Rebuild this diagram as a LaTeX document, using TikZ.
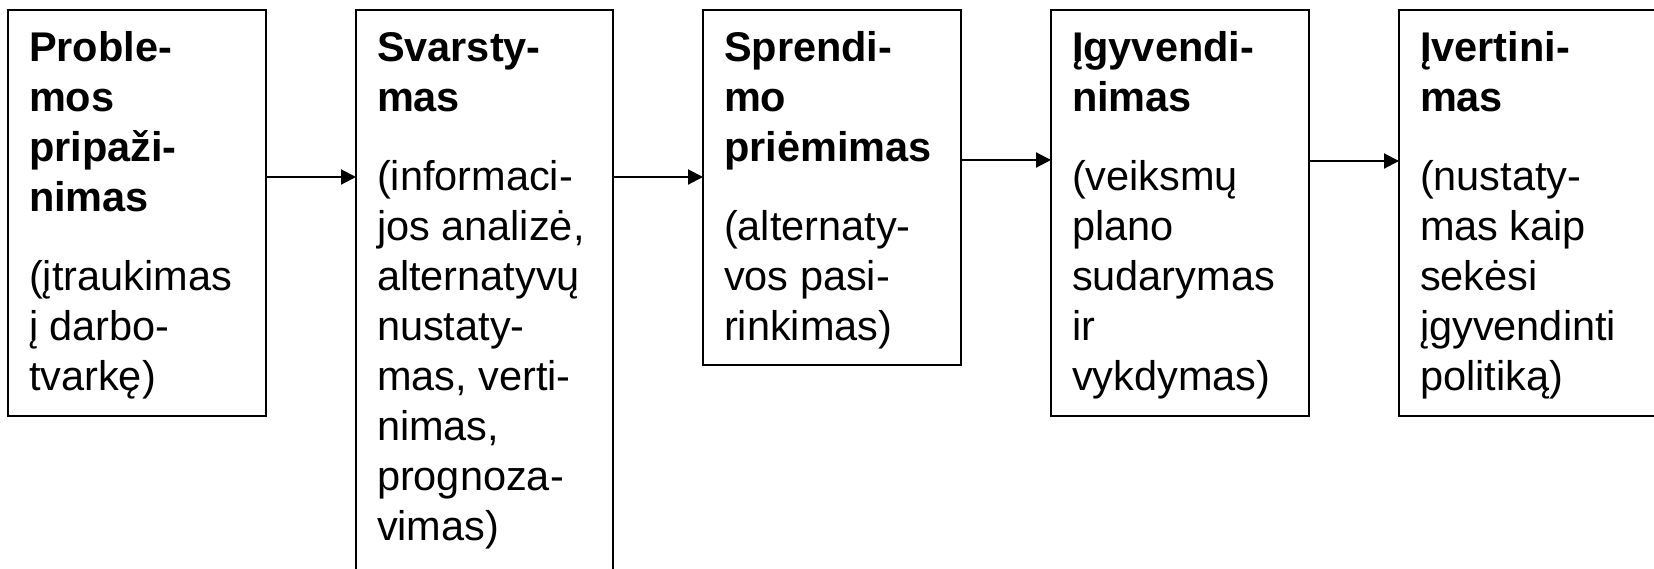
\documentclass[tikz,border=0pt]{standalone}
\usepackage{fontspec}
\setmainfont{Liberation Sans}
\usetikzlibrary{arrows.meta}
\begin{document}
\begin{tikzpicture}[x=1pt,y=-1pt,
  stage/.style 2 args={draw=black, line width=2pt, rectangle, anchor=north west,
    inner sep=0pt, outer sep=0pt, minimum width=#1, minimum height=#2},
  lbl/.style={anchor=base west, inner sep=0pt, outer sep=0pt, align=left,
    font=\fontsize{41.5pt}{50pt}\selectfont},
  conn/.style={line width=2pt, -{Triangle[length=15pt,width=15pt]}}]
\useasboundingbox (0,0) rectangle (1654,569);
% boxes
\node[stage={258pt}{406pt}] (b1) at (8,10) {};
\node[stage={257pt}{590pt}] (b2) at (356,10) {};
\node[stage={258pt}{355pt}] (b3) at (703,10) {};
\node[stage={258pt}{406pt}] (b4) at (1051,10) {};
\node[stage={258pt}{406pt}] (b5) at (1399,10) {};
% texts
\node[lbl] (t1) at (29,62) {\parbox[t]{240pt}{\raggedright\bfseries Proble-\\mos\\pripaži-\\nimas\\[29pt]\mdseries (įtraukimas\\į darbo-\\tvarkę)}};
\node[lbl] (t2) at (377,62) {\parbox[t]{240pt}{\raggedright\bfseries Svarsty-\\mas\\[29pt]\mdseries (informaci-\\jos analizė,\\alternatyvų\\nustaty-\\mas, verti-\\nimas,\\prognoza-\\vimas)}};
\node[lbl] (t3) at (724,62) {\parbox[t]{240pt}{\raggedright\bfseries Sprendi-\\mo\\priėmimas\\[29pt]\mdseries (alternaty-\\vos pasi-\\rinkimas)}};
\node[lbl] (t4) at (1072,62) {\parbox[t]{240pt}{\raggedright\bfseries Įgyvendi-\\nimas\\[29pt]\mdseries (veiksmų\\plano\\sudarymas\\ir\\vykdymas)}};
\node[lbl] (t5) at (1420,62) {\parbox[t]{240pt}{\raggedright\bfseries Įvertini-\\mas\\[29pt]\mdseries (nustaty-\\mas kaip\\sekėsi\\įgyvendinti\\politiką)}};
% connectors
\draw[conn] ([yshift=-167pt]b1.north east) -- ([yshift=-167pt]b2.north west);
\draw[conn] ([yshift=-167pt]b2.north east) -- ([yshift=-167pt]b3.north west);
\draw[conn] ([yshift=-150pt]b3.north east) -- ([yshift=-150pt]b4.north west);
\draw[conn] ([yshift=-151pt]b4.north east) -- ([yshift=-151pt]b5.north west);
\end{tikzpicture}
\end{document}
